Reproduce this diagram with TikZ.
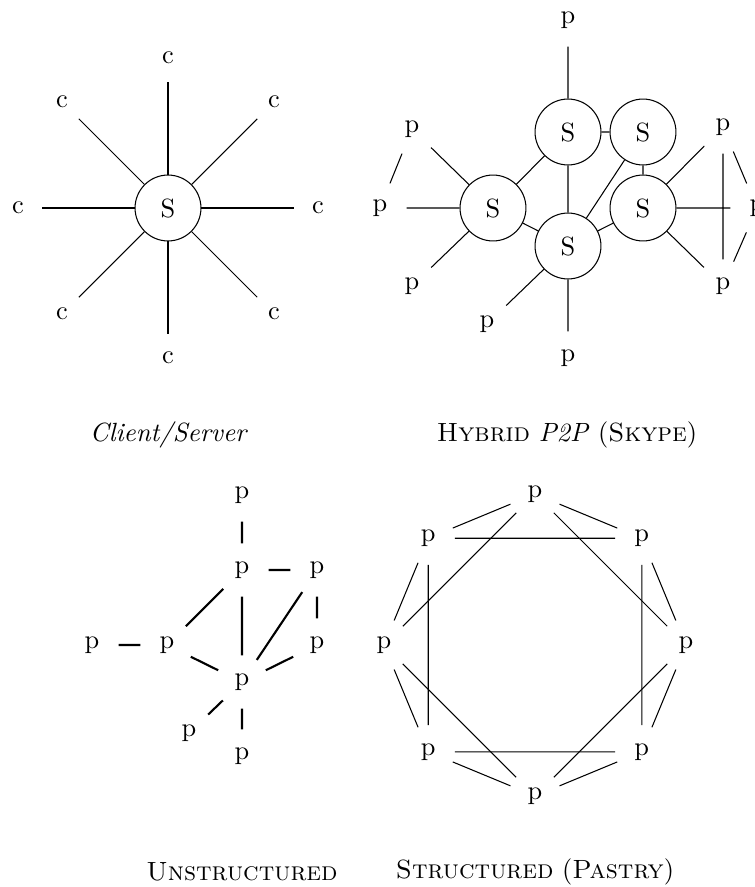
\documentclass[tikz,border=0pt]{standalone}
\usetikzlibrary{calc}
\begin{document}
\begin{tikzpicture}[x=0.37937pt,y=-0.37937pt,
  peer/.style={circle,inner sep=4pt},
  server/.style={circle,draw,minimum size=25pt,inner sep=0pt},
  ulink/.style={thick}]
\useasboundingbox (0,0) rectangle (755,887);

% ---------- Client/Server ----------
\node[server] (cs) at (168,208) {S};
\foreach \a in {0,45,...,315}
  \node[peer] (c\a) at ($(cs)+(\a:150)$) {c};
\foreach \a in {0,45,...,315}
  \draw (cs) -- (c\a);
\node (capcs) at (169,435) {\textit{Client/Server}};

% ---------- Hybrid P2P ----------
\node[server] (hT)  at (568,132) {S};
\node[server] (hTR) at (643,132) {S};
\node[server] (hL)  at (493,208) {S};
\node[server] (hR)  at (643,208) {S};
\node[server] (hB)  at (568,246) {S};
\draw (hT)--(hTR) (hT)--(hL) (hT)--(hB) (hTR)--(hB) (hTR)--(hR) (hL)--(hB) (hB)--(hR);
\node[peer] (pT)  at (568,20)  {p};
\node[peer] (pL1) at (412,129) {p};
\node[peer] (pL2) at (380,208) {p};
\node[peer] (pL3) at (412,286) {p};
\node[peer] (pB1) at (487,324) {p};
\node[peer] (pB2) at (568,358) {p};
\node[peer] (pR1) at (723,127) {p};
\node[peer] (pR2) at (757,208) {p};
\node[peer] (pR3) at (723,286) {p};
\draw (hT)--(pT) (hL)--(pL1) (hL)--(pL2) (hL)--(pL3) (hB)--(pB1) (hB)--(pB2)
      (hR)--(pR1) (hR)--(pR2) (hR)--(pR3)
      (pL1)--(pL2) (pR1)--(pR3) (pR1)--(pR2) (pR2)--(pR3);
\node (caphy) at (567,435) {\textsc{Hybrid} \textit{P2P} (\textsc{Skype})};

% ---------- Unstructured ----------
\node[peer] (uTop) at (242,495) {p};
\node[peer] (uA)   at (242,570) {p};
\node[peer] (uB)   at (317,570) {p};
\node[peer] (uC)   at (317,645) {p};
\node[peer] (uD)   at (167,645) {p};
\node[peer] (uE)   at (92,645)  {p};
\node[peer] (uF)   at (242,682) {p};
\node[peer] (uG)   at (189,733) {p};
\node[peer] (uH)   at (242,756) {p};
\draw[ulink] (uTop)--(uA) (uA)--(uB) (uA)--(uD) (uA)--(uF) (uB)--(uF) (uB)--(uC)
      (uC)--(uF) (uE)--(uD) (uD)--(uF) (uF)--(uG) (uF)--(uH);
\node (capun) at (242,872) {\textsc{Unstructured}};

% ---------- Structured ----------
\coordinate (sc) at (535,645);
\foreach \i in {0,...,7}
  \node[peer] (s\i) at ($(sc)+(\i*45:151)$) {p};
\foreach \i in {0,...,7}{
  \pgfmathtruncatemacro\j{mod(\i+1,8)}
  \pgfmathtruncatemacro\k{mod(\i+2,8)}
  \draw (s\i)--(s\j) (s\i)--(s\k);
}
\node (capst) at (535,872) {\textsc{Structured} (\textsc{Pastry})};
\end{tikzpicture}
\end{document}
